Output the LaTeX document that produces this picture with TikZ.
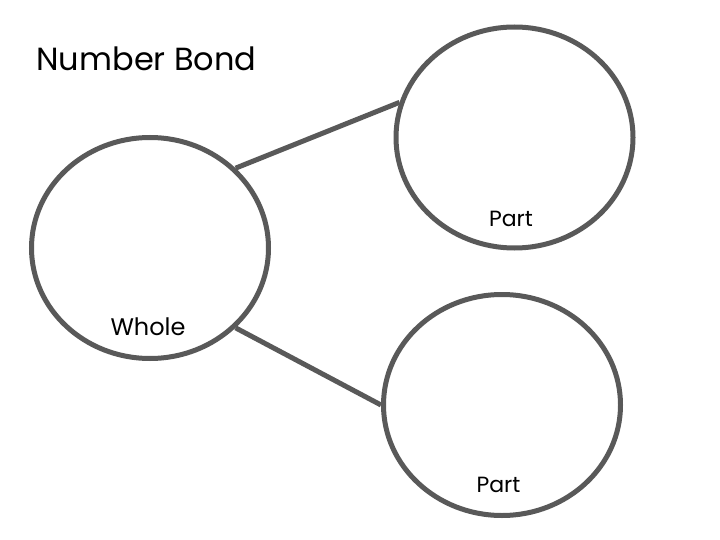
\documentclass[tikz,border=0pt]{standalone}
\usepackage{fontspec}
\setmainfont{Poppins}
\usepackage{xcolor}
\usetikzlibrary{shapes.geometric}
\definecolor{bondgray}{HTML}{595959}
\tikzset{bond/.style={ellipse,draw=bondgray,line width=5pt,
  minimum width=237pt,minimum height=221pt,inner sep=0pt},
 link/.style={draw=bondgray,line width=5pt},
 label text/.style={inner sep=0pt,font=\fontsize{24}{28}\selectfont},
 }

\begin{document}
\begin{tikzpicture}[x=1pt,y=-1pt]
        \useasboundingbox (0,0) rectangle (720,540);
        \node[inner sep=0pt,font=\fontsize{32}{38}\selectfont] (title) at (146.5,58.5) {Number Bond};
        \node[bond] (whole) at (150,248) {};
        \node[bond] (top) at (514.5,137.5) {};
        \node[bond] (bottom) at (502,405) {};
        \draw[link] (whole.43) -- (top.163);
        \draw[link] (whole.-43) -- (bottom.180);
        \node[label text] (wholetext) at (148,327) {Whole};
        \node[label text,font=\fontsize{22}{26}\selectfont] (toptext) at (511,219) {Part};
        \node[label text,font=\fontsize{22}{26}\selectfont] (bottomtext) at (498.5,485) {Part};
    \end{tikzpicture}
\end{document}
